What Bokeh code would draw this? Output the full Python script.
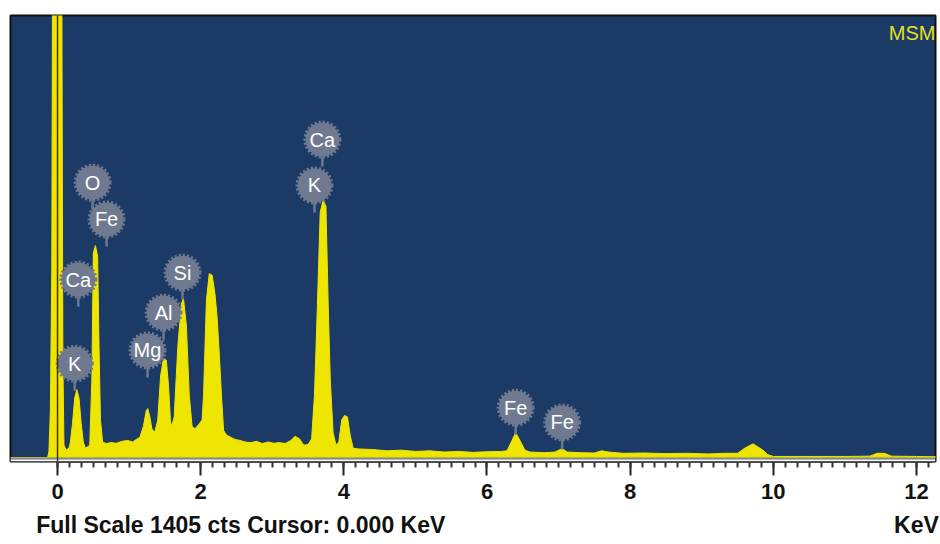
from bokeh.plotting import figure
from bokeh.models import Range1d, SingleIntervalTicker, FixedTicker, LinearAxis, Label, Span, BoxAnnotation
from bokeh.core.properties import value
from bokeh.embed import file_html
from bokeh.resources import INLINE

# ---- spectrum (keV, counts) ----
energy_kev = [-0.66, -0.14, -0.12, -0.10, -0.08, -0.07, 0.06, 0.075, 0.09, 0.12, 0.16,
              0.18, 0.21, 0.24, 0.27, 0.30, 0.33, 0.36, 0.39, 0.42,
              0.45, 0.48, 0.50, 0.53, 0.56, 0.58, 0.60, 0.63,
              0.68, 0.75, 0.82, 0.90, 0.98, 1.05, 1.10,
              1.15, 1.20, 1.24, 1.26, 1.29, 1.32, 1.36,
              1.40, 1.44, 1.48, 1.52, 1.55, 1.58, 1.60,
              1.63, 1.68, 1.73, 1.76, 1.80, 1.84, 1.88, 1.92, 1.97, 2.02,
              2.04, 2.08, 2.12, 2.16, 2.20, 2.23, 2.26, 2.29, 2.32, 2.36, 2.42, 2.48,
              2.55, 2.62, 2.70, 2.78, 2.86, 2.94, 3.02, 3.10, 3.18, 3.26, 3.32, 3.38, 3.44, 3.50,
              3.55, 3.59, 3.63, 3.67, 3.71, 3.75, 3.78, 3.81, 3.85, 3.89,
              3.93, 3.97, 4.01, 4.05, 4.09, 4.13,
              4.2, 4.4, 4.6, 4.8, 5.0, 5.2, 5.4, 5.6, 5.8, 6.0, 6.2,
              6.28, 6.34, 6.40, 6.46, 6.53, 6.6, 6.8, 6.95, 7.05, 7.12,
              7.3, 7.5, 7.6, 7.7, 7.9, 8.2, 8.5, 8.8, 9.1, 9.3,
              9.50, 9.60, 9.68, 9.72, 9.78, 9.85, 9.92, 10.0,
              10.5, 11.0, 11.35, 11.45, 11.55, 11.65, 12.0, 12.3]
counts = [0, 0, 20, 150, 600, 1500, 1500, 300, 40, 25, 30,
          50, 110, 190, 216, 190, 110, 50, 30, 35,
          40, 250, 650, 674, 640, 350, 120, 50,
          45, 48, 46, 52, 55, 50, 58,
          65, 100, 150, 156, 130, 90, 82,
          120, 260, 315, 310, 230, 110, 105,
          130, 350, 490, 505, 420, 200, 100, 92, 105, 120,
          200, 500, 585, 580, 520, 445, 330, 200, 87, 72, 65, 58,
          55, 50, 48, 52, 45, 50, 46, 48, 45, 55, 68, 60, 40, 42,
          60, 200, 480, 780, 817, 800, 500, 250, 80, 40,
          50, 120, 134, 130, 70, 30,
          28, 26, 22, 24, 20, 22, 18, 20, 17, 19, 20,
          22, 50, 80, 55, 24, 18, 16, 18, 29, 18,
          16, 15, 22, 18, 14, 15, 13, 14, 12, 14,
          14, 30, 40, 44, 35, 25, 10, 4,
          4, 4, 5, 14, 14, 5, 4, 3]

# ---- element markers ----
label_text = ["K", "Ca", "O", "Fe", "Mg", "Al", "Si", "K", "Ca", "Fe", "Fe"]
label_kev = [0.24, 0.29, 0.49, 0.685, 1.257, 1.481, 1.746, 3.59, 3.70, 6.40, 7.05]
label_cts = [299, 566, 874, 757, 341, 461, 588, 865, 1011, 159, 112]

full_scale = 1405
sample_name = "MSM"
footer_text = "Full Scale 1405 cts Cursor: 0.000 KeV"
unit_text = "KeV"
footer_at = 2.56   # keV position under which the footer text is centred
unit_at = 12.0     # keV position under which the unit text is centred

NAVY = "#1b3a66"
YELLOW = "#eee600"
BADGE = "#6f7a90"
FONT = "Liberation Sans"

p = figure(width=940, height=544, output_backend="svg", toolbar_location=None,
           x_range=Range1d(-0.657, 12.266), y_range=Range1d(-12, full_scale),
           y_axis_location=None, min_border_left=10, min_border_right=5,
           min_border_top=15, min_border_bottom=83)
p.background_fill_color = NAVY
p.border_fill_color = "white"
p.outline_line_color = "#111111"
p.outline_line_width = 2
p.xgrid.visible = False
p.ygrid.visible = False

ax = p.xaxis[0]
ax.ticker = SingleIntervalTicker(interval=2, num_minor_ticks=12)
ax.bounds = (0, 12.23)
ax.axis_line_color = "#111111"
ax.axis_line_width = 2
ax.major_tick_out = 14
ax.major_tick_in = 0
ax.major_tick_line_width = 2
ax.major_tick_line_color = "#222222"
ax.minor_tick_out = 6
ax.minor_tick_in = 0
ax.minor_tick_line_width = 2
ax.minor_tick_line_color = "#333333"
ax.major_label_standoff = 8
ax.major_label_text_font = FONT
ax.major_label_text_font_style = "bold"
ax.major_label_text_font_size = "22px"
ax.major_label_text_color = "#111111"

# footer line: a tick-less axis whose two labels carry the footer texts
foot = LinearAxis(ticker=FixedTicker(ticks=[footer_at, unit_at], minor_ticks=[]),
                  major_label_overrides={footer_at: footer_text, unit_at: unit_text},
                  axis_line_color=None, major_tick_line_color=None, minor_tick_line_color=None,
                  major_tick_out=0, major_tick_in=0, minor_tick_out=0, minor_tick_in=0,
                  major_label_standoff=10, major_label_text_font=FONT,
                  major_label_text_font_style="bold", major_label_text_font_size="23px",
                  major_label_text_color="#111111")
p.add_layout(foot, "below")

# spectrum
p.varea(x=energy_kev, y1=0, y2=counts, fill_color=YELLOW)
p.line(x=energy_kev, y=counts, line_color=YELLOW, line_width=1)

# bottom band below the zero line
p.add_layout(BoxAnnotation(bottom=-6, top=0, fill_color="#8f8f8f", fill_alpha=1, line_alpha=0))
p.add_layout(BoxAnnotation(bottom=-12, top=-6, fill_color="white", fill_alpha=1, line_alpha=0))

# cursor
p.add_layout(Span(location=0, dimension="height", line_color="#4a3010", line_width=1.5))

# element badges
p.segment(x0=label_kev, y0=label_cts, x1=label_kev, y1=[c - 86 for c in label_cts],
          line_color=BADGE, line_width=2.5)
p.scatter(x=label_kev, y=label_cts, size=34, marker="circle", fill_color=BADGE,
          line_color=BADGE, line_width=4, line_dash="2 2")
p.text(x=label_kev, y=label_cts, text=label_text, text_align="center", text_baseline="middle",
       text_color="white", text_font=value(FONT), text_font_size="20px")

p.add_layout(Label(x=925, y=429, x_units="screen", y_units="screen", text=sample_name,
                   text_align="right", text_baseline="middle", text_color="#e6e020",
                   text_font=FONT, text_font_size="20px"))

open("out.html", "w").write(file_html(p, INLINE))
